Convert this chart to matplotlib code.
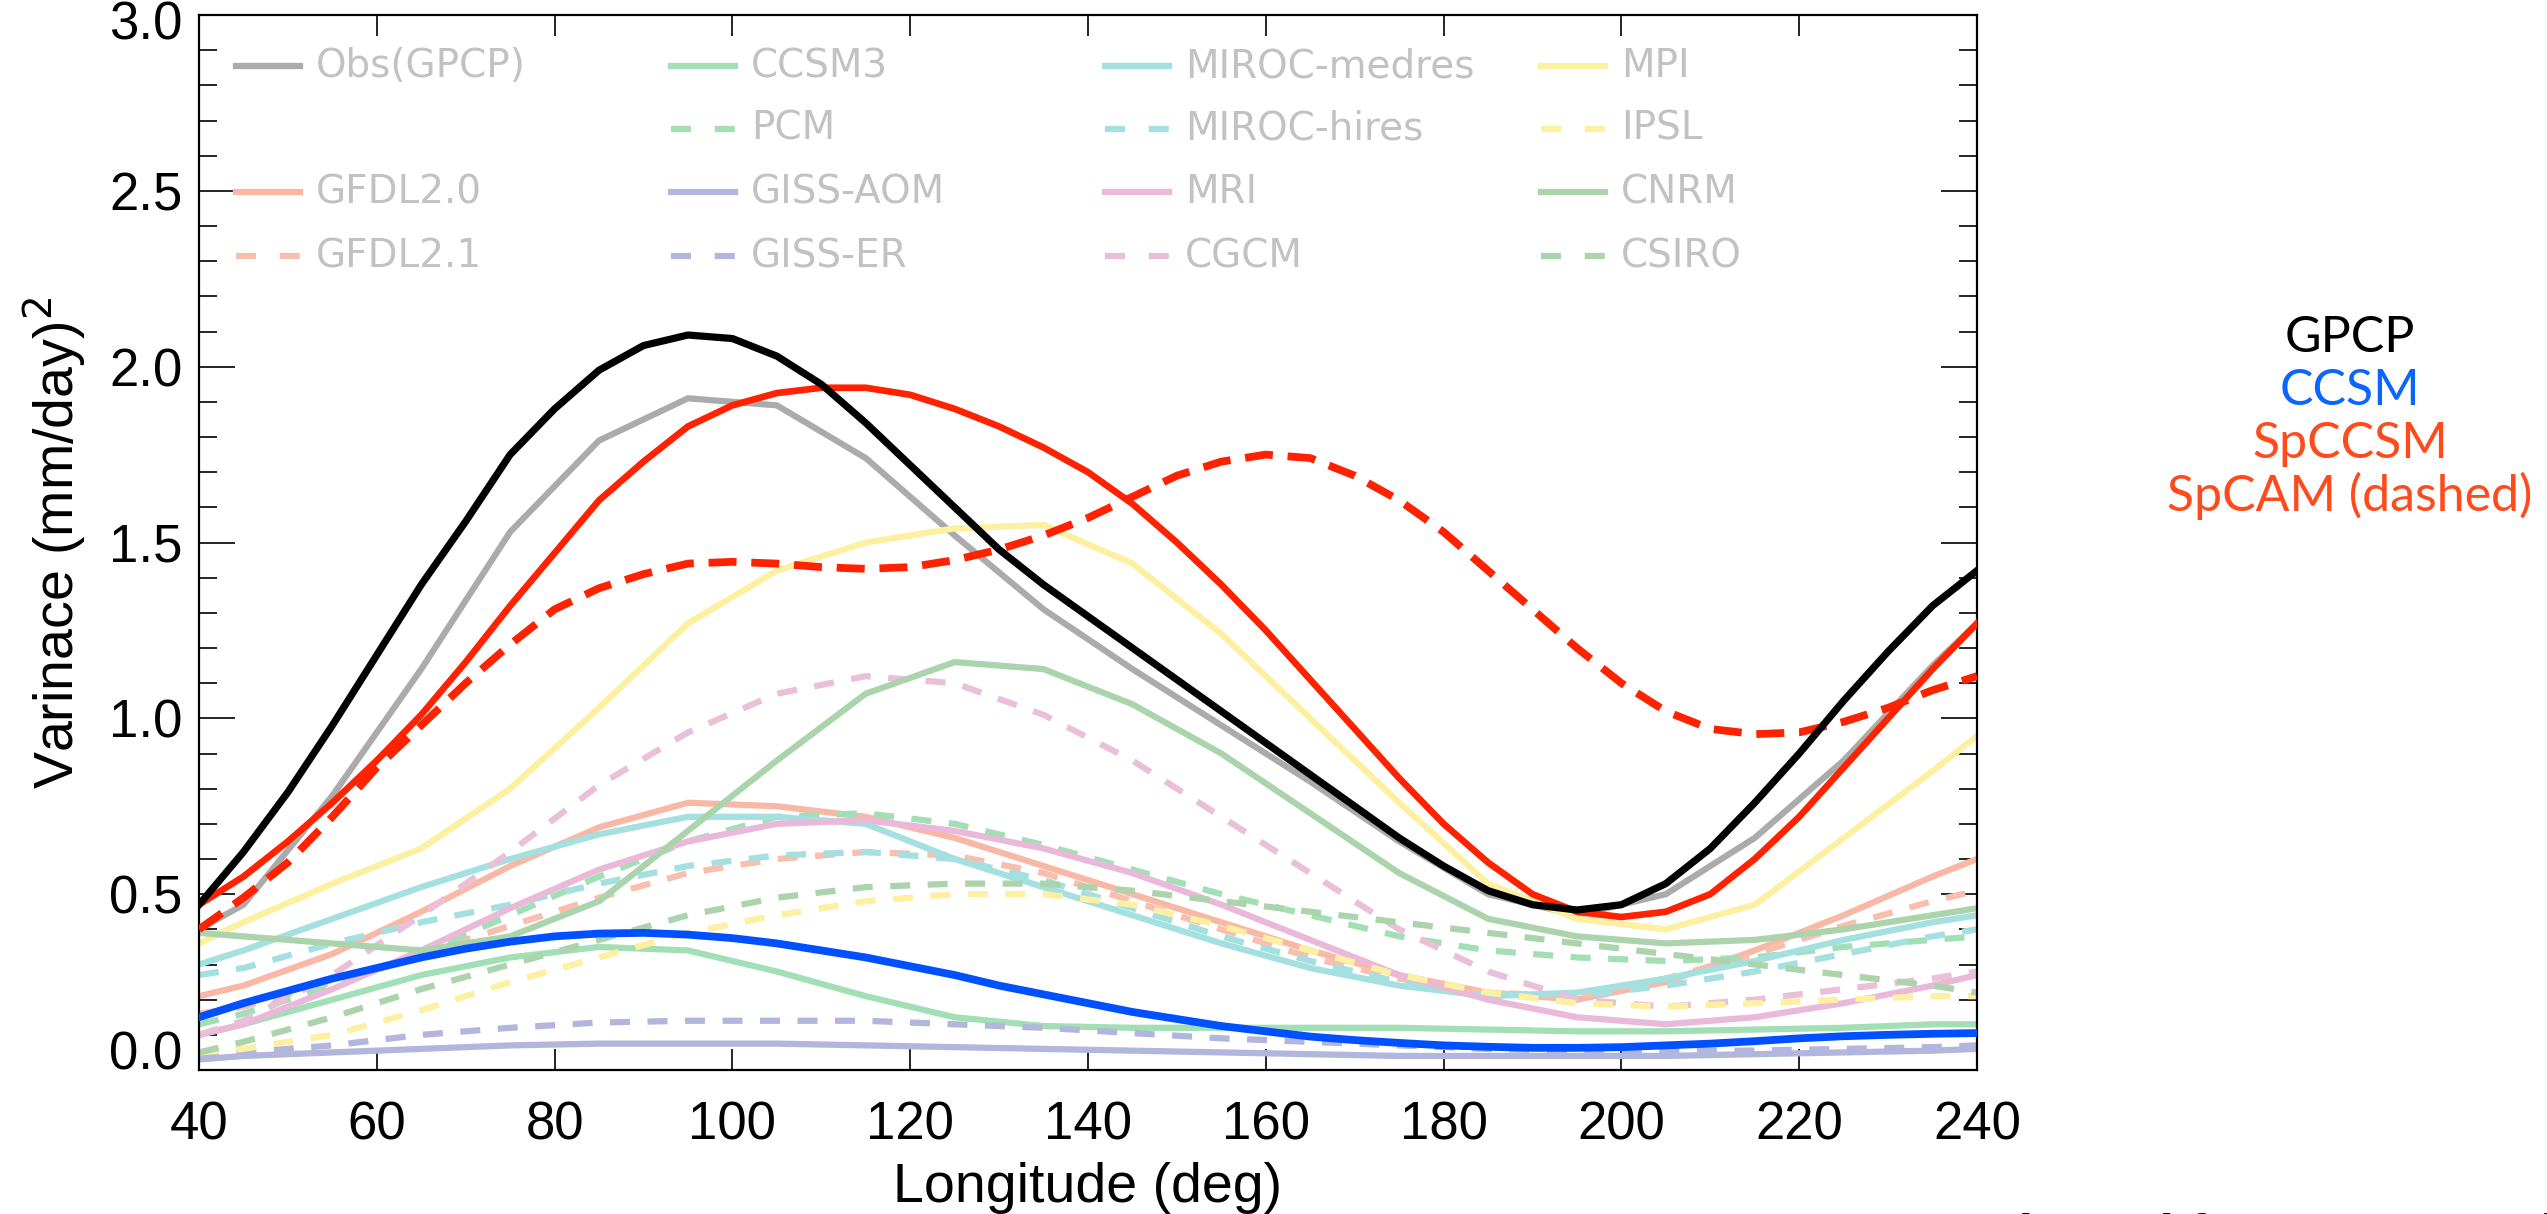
import numpy as np
import matplotlib
matplotlib.use("Agg")
from matplotlib import pyplot as plt
from matplotlib.transforms import ScaledTranslation

# longitude grid for the smooth curves (GPCP, CCSM, SpCCSM, SpCAM)
lon = [40, 45, 50, 55, 60, 65, 70, 75, 80, 85, 90, 95, 100, 105, 110, 115, 120,
       125, 130, 135, 140, 145, 150, 155, 160, 165, 170, 175, 180, 185, 190,
       195, 200, 205, 210, 215, 220, 225, 230, 235, 240]

gpcp = [0.47, 0.62, 0.79, 0.98, 1.18, 1.38, 1.56, 1.75, 1.88, 1.99, 2.06, 2.09,
        2.08, 2.03, 1.95, 1.84, 1.72, 1.60, 1.48, 1.38, 1.29, 1.20, 1.11, 1.02,
        0.93, 0.84, 0.75, 0.66, 0.58, 0.51, 0.47, 0.455, 0.47, 0.53, 0.63, 0.76,
        0.90, 1.05, 1.19, 1.32, 1.42]
ccsm = [0.15, 0.19, 0.225, 0.26, 0.29, 0.32, 0.345, 0.365, 0.38, 0.388, 0.39,
        0.385, 0.375, 0.36, 0.34, 0.32, 0.295, 0.27, 0.24, 0.215, 0.19, 0.165,
        0.145, 0.125, 0.11, 0.095, 0.085, 0.077, 0.07, 0.066, 0.063, 0.063,
        0.065, 0.07, 0.075, 0.082, 0.09, 0.096, 0.10, 0.103, 0.105]
spccsm = [0.47, 0.55, 0.65, 0.76, 0.88, 1.01, 1.16, 1.32, 1.47, 1.62, 1.73,
          1.83, 1.89, 1.925, 1.94, 1.94, 1.92, 1.88, 1.83, 1.77, 1.70, 1.61,
          1.50, 1.38, 1.25, 1.11, 0.97, 0.83, 0.70, 0.59, 0.50, 0.45, 0.435,
          0.45, 0.50, 0.60, 0.72, 0.86, 1.00, 1.14, 1.27]
spcam = [0.40, 0.49, 0.59, 0.72, 0.86, 0.98, 1.10, 1.21, 1.31, 1.37, 1.41,
         1.44, 1.445, 1.44, 1.43, 1.425, 1.43, 1.45, 1.48, 1.52, 1.57, 1.63,
         1.69, 1.73, 1.75, 1.74, 1.69, 1.62, 1.53, 1.42, 1.31, 1.20, 1.10,
         1.02, 0.97, 0.955, 0.96, 0.99, 1.03, 1.08, 1.12]

# coarser grid for the CMIP3 models and the GPCP obs line from the IDL plot
lon_m = [40, 45, 55, 65, 75, 85, 95, 105, 115, 125, 135, 145, 155, 165, 175,
         185, 195, 205, 215, 225, 235, 240]

obs_gpcp = [0.40, 0.47, 0.78, 1.14, 1.53, 1.79, 1.91, 1.89, 1.74, 1.52, 1.31,
            1.14, 0.98, 0.82, 0.65, 0.50, 0.44, 0.50, 0.66, 0.88, 1.15, 1.27]
ccsm3 = [0.10, 0.13, 0.20, 0.27, 0.32, 0.35, 0.34, 0.28, 0.21, 0.15, 0.125,
         0.12, 0.12, 0.12, 0.12, 0.115, 0.11, 0.11, 0.115, 0.12, 0.13, 0.13]
pcm = [0.13, 0.16, 0.24, 0.33, 0.44, 0.55, 0.65, 0.72, 0.73, 0.70, 0.64, 0.57,
       0.50, 0.44, 0.38, 0.34, 0.32, 0.31, 0.32, 0.35, 0.37, 0.38]
miroc_med = [0.30, 0.34, 0.43, 0.52, 0.60, 0.67, 0.72, 0.72, 0.70, 0.60, 0.52,
             0.44, 0.36, 0.29, 0.24, 0.21, 0.22, 0.26, 0.31, 0.37, 0.42, 0.44]
miroc_hi = [0.27, 0.29, 0.36, 0.42, 0.47, 0.53, 0.58, 0.61, 0.62, 0.60, 0.54,
            0.46, 0.38, 0.31, 0.25, 0.21, 0.21, 0.24, 0.28, 0.33, 0.38, 0.40]
mpi = [0.36, 0.42, 0.53, 0.63, 0.80, 1.03, 1.27, 1.42, 1.50, 1.54, 1.55, 1.44,
       1.24, 1.00, 0.76, 0.53, 0.43, 0.40, 0.47, 0.66, 0.85, 0.95]
ipsl = [0.05, 0.06, 0.10, 0.17, 0.25, 0.32, 0.39, 0.44, 0.48, 0.50, 0.50, 0.47,
        0.41, 0.34, 0.27, 0.22, 0.19, 0.18, 0.19, 0.20, 0.21, 0.21]
gfdl20 = [0.21, 0.24, 0.33, 0.45, 0.58, 0.69, 0.76, 0.75, 0.72, 0.66, 0.58,
          0.50, 0.42, 0.34, 0.27, 0.22, 0.20, 0.25, 0.34, 0.44, 0.55, 0.60]
gfdl21 = [0.16, 0.18, 0.25, 0.33, 0.41, 0.49, 0.56, 0.60, 0.62, 0.61, 0.56,
          0.48, 0.40, 0.32, 0.26, 0.22, 0.21, 0.26, 0.33, 0.41, 0.48, 0.51]
giss_aom = [0.03, 0.04, 0.05, 0.06, 0.07, 0.075, 0.075, 0.075, 0.07, 0.065,
            0.06, 0.055, 0.05, 0.045, 0.04, 0.04, 0.04, 0.04, 0.045, 0.05,
            0.055, 0.06]
giss_er = [0.04, 0.05, 0.07, 0.10, 0.12, 0.135, 0.14, 0.14, 0.14, 0.13, 0.12,
           0.105, 0.09, 0.08, 0.07, 0.06, 0.055, 0.055, 0.055, 0.06, 0.065, 0.07]
mri = [0.10, 0.13, 0.23, 0.34, 0.46, 0.57, 0.65, 0.70, 0.71, 0.68, 0.63, 0.56,
       0.47, 0.37, 0.27, 0.20, 0.15, 0.13, 0.15, 0.19, 0.24, 0.27]
cgcm = [0.10, 0.14, 0.27, 0.44, 0.62, 0.81, 0.96, 1.07, 1.12, 1.10, 1.01, 0.88,
        0.72, 0.56, 0.40, 0.28, 0.20, 0.18, 0.20, 0.23, 0.26, 0.28]
cnrm = [0.39, 0.38, 0.36, 0.34, 0.38, 0.48, 0.68, 0.88, 1.07, 1.16, 1.14, 1.04,
        0.90, 0.73, 0.56, 0.43, 0.38, 0.36, 0.37, 0.40, 0.44, 0.46]
csiro = [0.05, 0.08, 0.15, 0.23, 0.30, 0.37, 0.44, 0.49, 0.52, 0.53, 0.53, 0.51,
         0.48, 0.45, 0.42, 0.39, 0.36, 0.33, 0.30, 0.27, 0.24, 0.22]

# (label, data, colour, dashed) in legend order, filled column by column;
# None leaves the slot empty
models = [
    ("Obs(GPCP)", obs_gpcp, "#ababab", False),
    None,
    ("GFDL2.0", gfdl20, "#f9b8a6", False),
    ("GFDL2.1", gfdl21, "#f9bfae", True),
    ("CCSM3", ccsm3, "#a3dfb5", False),
    ("PCM", pcm, "#a3dfb5", True),
    ("GISS-AOM", giss_aom, "#b2b5dc", False),
    ("GISS-ER", giss_er, "#b2b5dc", True),
    ("MIROC-medres", miroc_med, "#a4e0df", False),
    ("MIROC-hires", miroc_hi, "#a4e0df", True),
    ("MRI", mri, "#eab8d9", False),
    ("CGCM", cgcm, "#eabfd8", True),
    ("MPI", mpi, "#fdf0a0", False),
    ("IPSL", ipsl, "#fdf0a0", True),
    ("CNRM", cnrm, "#acd4ac", False),
    ("CSIRO", csiro, "#acd4ac", True),
]

W, H = 2547, 1214
fig = plt.figure(figsize=(W / 100, H / 100), dpi=100)
ax = fig.add_axes([199 / W, 1 - 1070 / H, (1977 - 199) / W, (1070 - 15) / H])

tick_font = "Liberation Sans"

### faded model lines ###
for m in models:
    if m is None:
        continue
    name, vals, col, dashed = m
    ax.plot(lon_m, vals, color=col, lw=4.5, ls=(0, (3.2, 2.8)) if dashed else "-",
            solid_joinstyle="miter", zorder=2)

### legend drawn by hand on a fixed grid (4 columns x 4 rows) ###
col_x = [236, 671, 1105, 1541]
row_y = [66, 129, 192, 256]
for i, m in enumerate(models):
    if m is None:
        continue
    name, vals, col, dashed = m
    c, r = i // 4, i % 4
    x0 = (col_x[c] - 199) / 1778
    x1 = (col_x[c] + 64 - 199) / 1778
    y = (1070 - row_y[r]) / 1055
    ax.plot([x0, x1], [y, y], transform=ax.transAxes, color=col, lw=4.5,
            ls=(0, (3.2, 3.8)) if dashed else "-", clip_on=False, zorder=3)
    ax.text(x1 + 16 / 1778, y, name, transform=ax.transAxes, fontsize=28,
            color="#c2c2c2", va="center", ha="left", family="DejaVu Sans",
            zorder=3)

### main curves ###
ax.plot(lon, ccsm, color="#0050ff", lw=5.6, zorder=5)
ax.plot(lon, spcam, color="#ff2200", lw=5.6, ls=(0, (3.6, 1.9)), zorder=5)
ax.plot(lon, spccsm, color="#ff2200", lw=4.8, zorder=6)
ax.plot(lon, gpcp, color="black", lw=5.2, zorder=7)

ax.set_xlim(40, 240)
ax.set_ylim(0, 3.0)
ax.set_xticks(np.arange(40, 241, 20))
ax.set_yticks(np.arange(0, 3.01, 0.5))
ax.set_yticks(np.arange(0, 3.01, 0.1), minor=True)
ax.yaxis.set_major_formatter(matplotlib.ticker.FormatStrFormatter("%.1f"))

ax.tick_params(which="both", direction="in", top=True, right=True, width=1.2,
               labelsize=38, colors="black")
ax.tick_params(axis="x", which="major", length=15, pad=22)
ax.tick_params(axis="y", which="major", length=26, pad=12)
ax.tick_params(axis="y", which="minor", length=13)
for lab in ax.get_xticklabels() + ax.get_yticklabels():
    lab.set_family(tick_font)
for s in ax.spines.values():
    s.set_linewidth(1.6)

# end labels sit inside the frame rather than centred on the tick
ylabs = ax.get_yticklabels()
ylabs[0].set_va("baseline")
ylabs[-1].set_va("top")
ylabs[-1].set_transform(ylabs[-1].get_transform()
                        + ScaledTranslation(0, 0.14, fig.dpi_scale_trans))

ax.set_xlabel("Longitude (deg)", fontsize=40, family=tick_font, labelpad=8)
ax.set_ylabel("Varinace (mm/day)$^2$", fontsize=40, family=tick_font,
              labelpad=14)

### key on the right ###
key = [("GPCP", "black", 352), ("CCSM", "#0a66ff", 405),
       ("SpCCSM", "#ff4a1c", 458), ("SpCAM (dashed)", "#ff4a1c", 511)]
for txt, col, base in key:
    fig.text(2350 / W, 1 - base / H, txt, color=col, fontsize=36, family="Lato",
             ha="center", va="baseline")

# source note, mostly below the bottom edge
fig.text(1967 / W, 1 - 1252 / H, "adapted from Stan et al. 2010", fontsize=38,
         style="italic", weight="bold", family=tick_font, ha="left",
         va="baseline")

fig.savefig("out.png", dpi=100)
